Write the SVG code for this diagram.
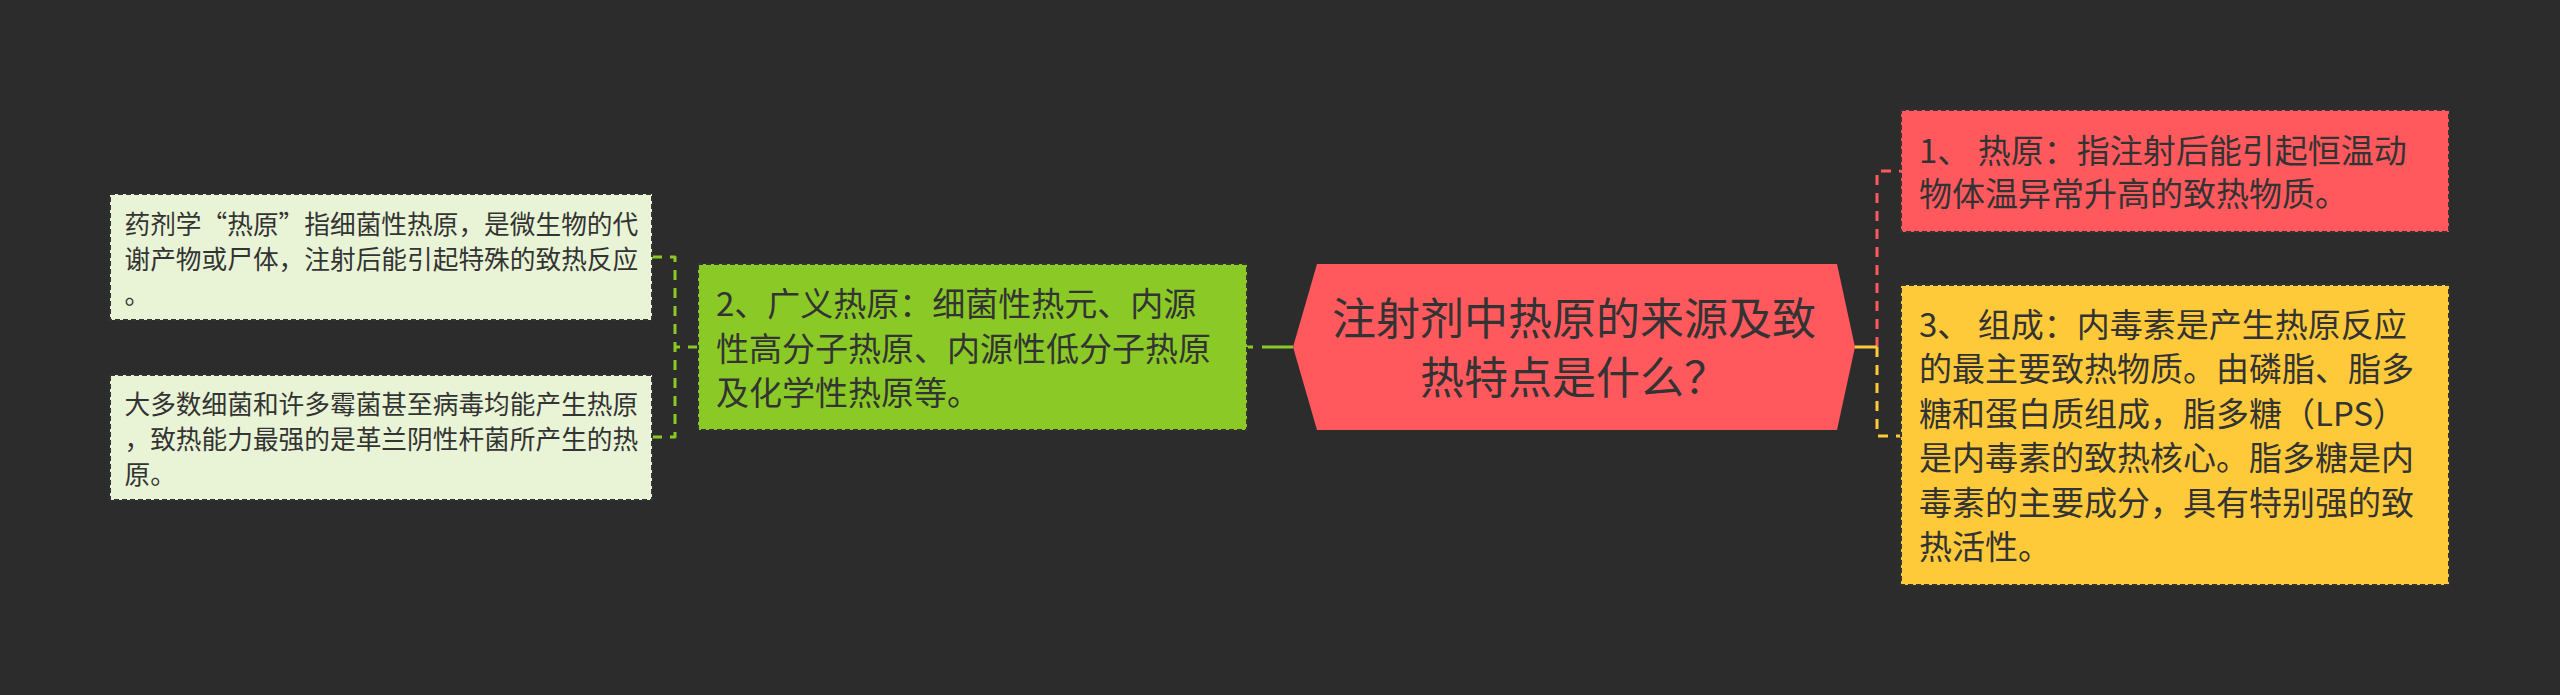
<svg xmlns="http://www.w3.org/2000/svg" width="2560" height="695" viewBox="0 0 2560 695">
<style>
text{font-family:"Noto Sans CJK SC","Noto Sans",sans-serif;fill:#333333}
.box{stroke:#333333;stroke-width:2;stroke-dasharray:5 3}
.t44{font-size:44px}
.t33{font-size:33px}
.t26{font-size:25.7px}
.conn{fill:none;stroke-width:3;stroke-linejoin:round}
.dash{stroke-dasharray:10 8}
</style>
<rect width="2560" height="695" fill="#2c2c2c"/>
<g id="connectors">
<path class="conn dash" stroke="#8AC926" d="M698,347 H675 M652,257 H675 V437 H652"/>
<path class="conn" stroke="#8AC926" stroke-dasharray="6 9 100" d="M1247,347 H1293"/>
<path class="conn dash" stroke="#FF595E" d="M1877,347 V171 H1901"/>
<path class="conn" stroke="#FFCA3A" d="M1854,347 H1877"/>
<path class="conn dash" stroke="#FFCA3A" d="M1877,347 V436 H1901"/>
</g>
<g id="center">
<polygon points="1293,347 1317,264 1837,264 1855,347 1837,430 1317,430" fill="#FF595E"/>
<text class="t44" x="1574" y="335" text-anchor="middle">注射剂中热原的来源及致</text>
<text class="t44" x="1574" y="394" text-anchor="middle">热特点是什么？</text>
</g>
<g id="node-r1">
<rect class="box" x="1901" y="110" width="548" height="122" fill="#FF595E"/>
<text class="t33" x="1919" y="162.5">1、 热原：指注射后能引起恒温动</text>
<text class="t33" x="1919" y="205.5">物体温异常升高的致热物质。</text>
</g>
<g id="node-r3">
<rect class="box" x="1901" y="285" width="548" height="300" fill="#FFCA3A"/>
<text class="t33" x="1919" y="336.5">3、 组成：内毒素是产生热原反应</text>
<text class="t33" x="1919" y="381">的最主要致热物质。由磷脂、脂多</text>
<text class="t33" x="1919" y="425.5">糖和蛋白质组成，脂多糖（LPS）</text>
<text class="t33" x="1919" y="470">是内毒素的致热核心。脂多糖是内</text>
<text class="t33" x="1919" y="514.5">毒素的主要成分，具有特别强的致</text>
<text class="t33" x="1919" y="559">热活性。</text>
</g>
<g id="node-l2">
<rect class="box" x="698" y="264" width="549" height="166" fill="#8AC926"/>
<text class="t33" x="716" y="316">2、广义热原：细菌性热元、内源</text>
<text class="t33" x="716" y="360.5">性高分子热原、内源性低分子热原</text>
<text class="t33" x="716" y="405">及化学性热原等。</text>
</g>
<g id="node-l2a">
<rect class="box" x="110" y="194" width="542" height="126" fill="#E9F4D6"/>
<text class="t26" x="124.5" y="234.3">药剂学“热原”指细菌性热原，是微生物的代</text>
<text class="t26" x="124.5" y="269.3">谢产物或尸体，注射后能引起特殊的致热反应</text>
<text class="t26" x="124.5" y="304.3">。</text>
</g>
<g id="node-l2b">
<rect class="box" x="110" y="375" width="542" height="125" fill="#E9F4D6"/>
<text class="t26" x="124.5" y="414">大多数细菌和许多霉菌甚至病毒均能产生热原</text>
<text class="t26" x="124.5" y="449">，致热能力最强的是革兰阴性杆菌所产生的热</text>
<text class="t26" x="124.5" y="484">原。</text>
</g>
</svg>
